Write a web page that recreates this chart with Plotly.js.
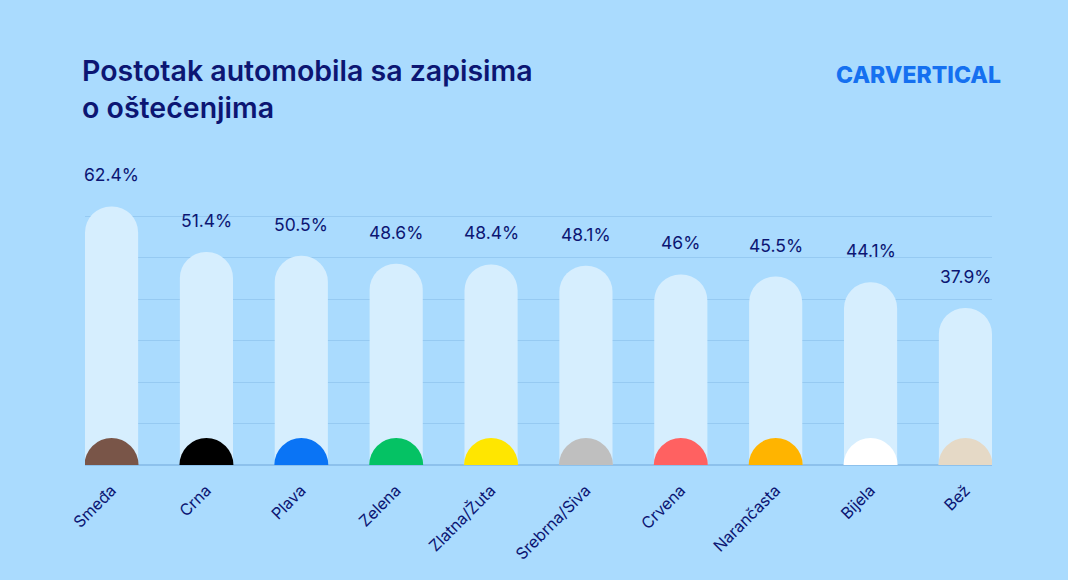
<!DOCTYPE html>
<html>
<head>
<meta charset="utf-8">
<script src="https://cdn.plot.ly/plotly-3.0.1.min.js"></script>
<style>
html,body{margin:0;padding:0;background:#AADBFE;}
#chart{width:1068px;height:580px;}
</style>
</head>
<body>
<div id="chart"></div>
<script>
var categories = ['Smeđa','Crna','Plava','Zelena','Zlatna/Žuta','Srebrna/Siva','Crvena','Narančasta','Bijela','Bež'];
var values = [62.4, 51.4, 50.5, 48.6, 48.4, 48.1, 46, 45.5, 44.1, 37.9];
var valueLabels = ['62.4%','51.4%','50.5%','48.6%','48.4%','48.1%','46%','45.5%','44.1%','37.9%'];
var capColors = ['#795548','#000000','#0A74F5','#05C264','#FFE600','#BFBFBF','#FF6161','#FFB400','#FFFFFF','#E5D9C6'];

var navy = '#0C1673';

var barTrace = {
  type: 'bar',
  x: categories,
  y: values,
  width: 0.56,
  marker: {color: '#D6EEFE', line: {width: 0}, cornerradius: '50%'},
  hoverinfo: 'skip'
};
// colour discs sitting on the baseline; the plot area clips their lower half
var capTrace = {
  type: 'scatter',
  mode: 'markers',
  x: categories,
  y: categories.map(function(){ return 0; }),
  cliponaxis: true,
  marker: {color: capColors, size: 54, symbol: 'circle', line: {width: 0}},
  hoverinfo: 'skip'
};

var annotations = categories.map(function(c, i){
  return {
    x: c, y: values[i], xref: 'x', yref: 'y',
    text: valueLabels[i], showarrow: false,
    yanchor: 'bottom', yshift: 19,
    font: {family: 'Inter, sans-serif', size: 17.5, color: navy}
  };
});
annotations.push({
  xref: 'paper', yref: 'paper', x: 1.012, y: 1.345,
  xanchor: 'right', yanchor: 'middle',
  text: 'CARVERTICAL', showarrow: false,
  font: {family: 'Inter, sans-serif', size: 23, color: '#1570F0', weight: 800}
});

var layout = {
  width: 1068, height: 580,
  paper_bgcolor: '#AADBFE', plot_bgcolor: '#AADBFE',
  margin: {l: 85, r: 76, t: 175, b: 115},
  showlegend: false,
  title: {
    text: 'Postotak automobila sa zapisima<br>o oštećenjima',
    x: 82/1068, xref: 'container', xanchor: 'left',
    y: 1 - 81/580, yref: 'container', yanchor: 'top',
    font: {family: 'Inter, sans-serif', size: 28.5, color: navy, weight: 600}
  },
  xaxis: {
    type: 'category',
    range: [-0.28, 9.28],
    tickangle: -45,
    showgrid: false,
    ticks: '',
    ticklabelstandoff: 12,
    showline: false,
    zeroline: false,
    tickfont: {family: 'Inter, sans-serif', size: 16, color: navy}
  },
  yaxis: {
    range: [0, 70],
    dtick: 10,
    showticklabels: false,
    gridcolor: '#96CAF2',
    gridwidth: 1,
    zeroline: true,
    zerolinecolor: '#8DC1EC',
    zerolinewidth: 2,
    fixedrange: true
  },
  annotations: annotations
};

Plotly.newPlot('chart', [barTrace, capTrace], layout, {displayModeBar: false, staticPlot: true});
</script>
</body>
</html>
